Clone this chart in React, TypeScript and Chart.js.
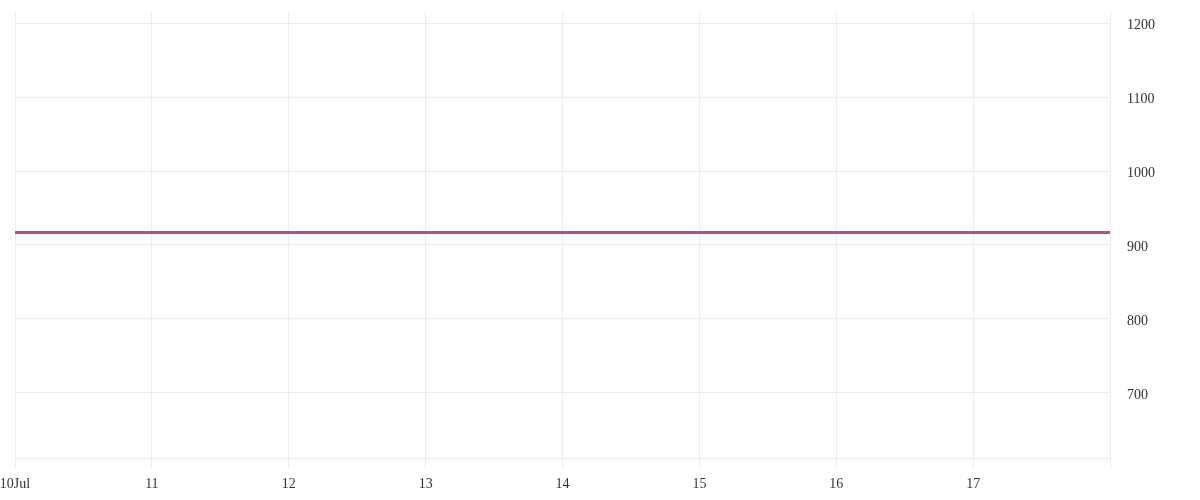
import { useEffect, useRef } from 'react';
import { Chart, registerables } from 'chart.js';

Chart.register(...registerables);

// days of July shown on the x axis
const days = [10, 11, 12, 13, 14, 15, 16, 17, 18];
const priceValues = [917, 917, 917, 917, 917, 917, 917, 917, 917];
const yTicks = [700, 800, 900, 1000, 1100, 1200];

const gridColor = '#ececec';
const labelColor = '#333333';

export default function App() {
  const canvasRef = useRef<HTMLCanvasElement>(null);
  const chartRef = useRef<Chart | null>(null);

  useEffect(() => {
    document.body.style.margin = '0';
    if (!canvasRef.current) return;
    const ctx = canvasRef.current.getContext('2d');
    if (!ctx) return;

    if (chartRef.current) chartRef.current.destroy();

    const points = days.map((d, i) => ({ x: d, y: priceValues[i] }));

    chartRef.current = new Chart(ctx, {
      type: 'line',
      data: {
        datasets: [
          {
            data: points,
            borderColor: '#c2449f',
            borderWidth: 3,
            pointRadius: 0,
            fill: false,
          },
          {
            data: points,
            borderColor: '#83387f',
            borderWidth: 1,
            pointRadius: 0,
            fill: false,
          },
        ],
      },
      options: {
        animation: false,
        responsive: true,
        maintainAspectRatio: false,
        layout: { padding: { left: 15, top: 12, right: 0, bottom: 0 } },
        plugins: {
          legend: { display: false },
          tooltip: { enabled: false },
        },
        scales: {
          x: {
            type: 'linear',
            min: 10,
            max: 18,
            afterBuildTicks: (scale: any) => {
              scale.ticks = days.map((d) => ({ value: d }));
            },
            afterFit: (scale: any) => {
              scale.height = 42;
              scale.paddingLeft = 0;
              scale.paddingRight = 0;
            },
            ticks: {
              color: labelColor,
              padding: 8,
              maxRotation: 0,
              autoSkip: false,
              font: { family: '"Liberation Serif", serif', size: 14 },
              callback: (v: any) => {
                if (v === 10) return '10Jul';
                if (v === 18) return '';
                return String(v);
              },
            },
            grid: {
              color: gridColor,
              tickLength: 10,
              drawTicks: true,
            },
            border: { display: true, color: gridColor },
          },
          y: {
            position: 'right',
            min: 612,
            max: 1215,
            afterBuildTicks: (scale: any) => {
              scale.ticks = yTicks.map((v) => ({ value: v }));
            },
            afterFit: (scale: any) => {
              scale.width = 90;
              scale.paddingTop = 0;
              scale.paddingBottom = 0;
            },
            ticks: {
              color: labelColor,
              padding: 17,
              labelOffset: 2,
              font: { family: '"Liberation Serif", serif', size: 14 },
              callback: (v: any) => String(v),
            },
            grid: {
              color: gridColor,
              drawTicks: false,
            },
            border: { display: false },
          },
        },
      },
    });

    return () => {
      if (chartRef.current) {
        chartRef.current.destroy();
        chartRef.current = null;
      }
    };
  }, []);

  return (
    <div style={{ position: 'absolute', left: 0, top: 0, width: 1200, height: 500, background: '#ffffff' }}>
      <canvas ref={canvasRef}></canvas>
    </div>
  );
}
